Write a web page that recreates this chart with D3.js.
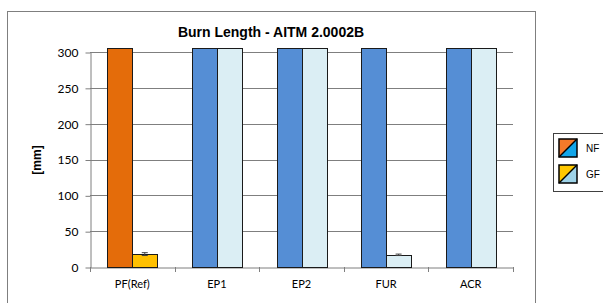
<!DOCTYPE html>
<meta charset="utf-8">
<script src="https://d3js.org/d3.v7.min.js"></script>
<style>
  body { margin: 0; background: #fff; }
</style>
<svg width="603" height="303"></svg>
<script>

// data
const categories = ["PF(Ref)", "EP1", "EP2", "FUR", "ACR"];
const series = ["NF", "GF"];
const nfValues = [305, 305, 305, 305, 305];
const gfValues = [18, 305, 305, 17, 305];
const gfErrors = [2, 0, 0, 1, 0];
const yTicks = [0, 50, 100, 150, 200, 250, 300];

// bar colours (PF(Ref) uses orange/yellow, the rest blue/light blue)
const fillNF = ["#E46C0A", "#558ED5", "#558ED5", "#558ED5", "#558ED5"];
const fillGF = ["#FFC000", "#DBEEF4", "#DBEEF4", "#DBEEF4", "#DBEEF4"];

var svg = d3.select("svg");

// outer chart frame
svg.append("rect")
    .attr("x", 7.5).attr("y", 11.5)
    .attr("width", 528).attr("height", 300)
    .attr("fill", "none").attr("stroke", "#7f7f7f");

var margin = {left: 90, right: 513, top: 52, bottom: 267};

var x = d3.scaleBand()
    .domain(categories)
    .range([margin.left, margin.right])
    .paddingInner(0.41).paddingOuter(0.205);

var xSub = d3.scaleBand()
    .domain(series)
    .range([0, x.bandwidth()]);

var y = d3.scaleLinear()
    .domain([0, 300])
    .range([margin.bottom, margin.top]);

// gridlines
svg.append("g")
    .selectAll("line")
    .data(yTicks.filter(d => d > 0))
    .enter().append("line")
      .attr("x1", margin.left).attr("x2", margin.right)
      .attr("y1", d => Math.round(y(d)) + 0.5)
      .attr("y2", d => Math.round(y(d)) + 0.5)
      .attr("stroke", "#7f7f7f");

// y axis
var yAxis = svg.append("g")
    .attr("transform", "translate(" + (margin.left + 0.5) + ",0.5)")
    .call(d3.axisLeft(y).tickValues(yTicks).tickSize(5).tickPadding(7).tickSizeOuter(0));
yAxis.select(".domain").attr("stroke", "#7f7f7f");
yAxis.selectAll(".tick line").attr("stroke", "#7f7f7f");
yAxis.selectAll("text")
    .attr("font-family", "Lato, 'Open Sans', sans-serif")
    .attr("font-size", "12px").attr("fill", "#000");

// x axis
var xAxis = svg.append("g")
    .attr("transform", "translate(0," + (margin.bottom + 0.5) + ")")
    .call(d3.axisBottom(x).tickSize(0).tickPadding(13).tickSizeOuter(0));
xAxis.select(".domain").attr("stroke", "#7f7f7f");
xAxis.selectAll("text")
    .attr("font-family", "Lato, 'Open Sans', sans-serif")
    .attr("font-size", "11px").attr("fill", "#000");

// tick marks between categories
var step = x.step();
svg.append("g")
    .selectAll("line")
    .data(d3.range(categories.length + 1))
    .enter().append("line")
      .attr("x1", i => Math.round(margin.left + i * step) + 0.5)
      .attr("x2", i => Math.round(margin.left + i * step) + 0.5)
      .attr("y1", margin.bottom).attr("y2", margin.bottom + 5)
      .attr("stroke", "#7f7f7f");

// bars
var barData = [];
categories.forEach(function(c, i) {
  barData.push({cat: c, s: "NF", v: nfValues[i], fill: fillNF[i], err: 0});
  barData.push({cat: c, s: "GF", v: gfValues[i], fill: fillGF[i], err: gfErrors[i]});
});

svg.append("g")
    .selectAll("rect")
    .data(barData)
    .enter().append("rect")
      .attr("x", d => Math.round(x(d.cat) + xSub(d.s)) + 0.5)
      .attr("y", d => Math.round(y(d.v)) + 0.5)
      .attr("width", Math.round(xSub.bandwidth()))
      .attr("height", d => Math.round(y(0)) - Math.round(y(d.v)))
      .attr("fill", d => d.fill)
      .attr("stroke", "#1a1a1a")
      .attr("stroke-width", 1);

// error bars
var errData = barData.filter(d => d.err > 0);
var eg = svg.append("g").attr("stroke", "#404040");
eg.selectAll(".ev")
    .data(errData).enter().append("line")
      .attr("x1", d => x(d.cat) + xSub(d.s) + xSub.bandwidth() / 2)
      .attr("x2", d => x(d.cat) + xSub(d.s) + xSub.bandwidth() / 2)
      .attr("y1", d => y(d.v + d.err)).attr("y2", d => y(d.v - d.err));
eg.selectAll(".eh")
    .data(errData.concat(errData)).enter().append("line")
      .attr("x1", d => x(d.cat) + xSub(d.s) + xSub.bandwidth() / 2 - 3)
      .attr("x2", d => x(d.cat) + xSub(d.s) + xSub.bandwidth() / 2 + 3)
      .attr("y1", (d, i) => y(i < errData.length ? d.v + d.err : d.v - d.err))
      .attr("y2", (d, i) => y(i < errData.length ? d.v + d.err : d.v - d.err));

// title
svg.append("text")
    .attr("x", 271).attr("y", 37)
    .attr("text-anchor", "middle")
    .attr("font-family", "'Liberation Sans', Arial, sans-serif")
    .attr("font-weight", "bold").attr("font-size", "14px")
    .text("Burn Length - AITM 2.0002B");

// y label
svg.append("text")
    .attr("transform", "translate(41,160) rotate(-90)")
    .attr("text-anchor", "middle")
    .attr("font-family", "'Liberation Sans', Arial, sans-serif")
    .attr("font-weight", "bold").attr("font-size", "12px")
    .text("[mm]");

// legend
var legendColors = [["#F47A2A", "#12A5E8"], ["#FFC800", "#9ED3E8"]];
var lg = svg.append("g");
lg.append("rect")
    .attr("x", 553.5).attr("y", 133.5)
    .attr("width", 50).attr("height", 58)
    .attr("fill", "#fff").attr("stroke", "#404040");
series.forEach(function(s, i) {
  var sx = 559, sy = 139 + i * 26, sz = 18;
  lg.append("path")
      .attr("d", "M" + sx + "," + sy + "h" + sz + "L" + sx + "," + (sy + sz) + "Z")
      .attr("fill", legendColors[i][0]);
  lg.append("path")
      .attr("d", "M" + (sx + sz) + "," + sy + "V" + (sy + sz) + "H" + sx + "Z")
      .attr("fill", legendColors[i][1]);
  lg.append("line")
      .attr("x1", sx + sz).attr("y1", sy).attr("x2", sx).attr("y2", sy + sz)
      .attr("stroke", "#000").attr("stroke-width", 1.5);
  lg.append("rect")
      .attr("x", sx).attr("y", sy).attr("width", sz).attr("height", sz)
      .attr("fill", "none").attr("stroke", "#000").attr("stroke-width", 1.5);
  lg.append("text")
      .attr("x", 586).attr("y", sy + sz / 2 + 4)
      .attr("font-family", "'Liberation Sans', Arial, sans-serif")
      .attr("font-size", "10px")
      .text(s);
});

</script>
